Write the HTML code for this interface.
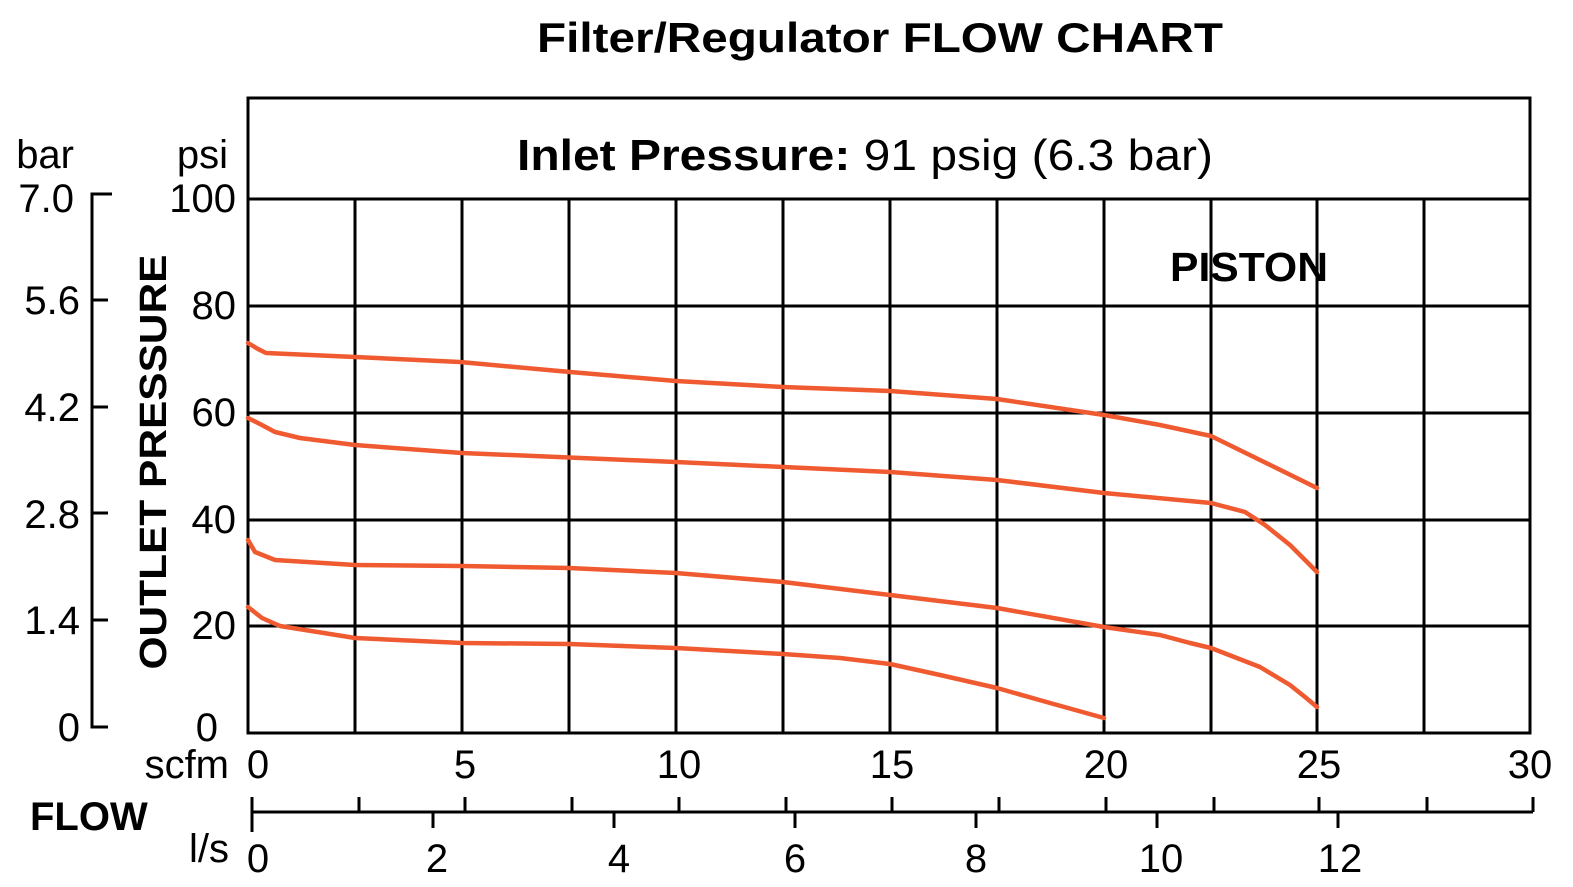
<!DOCTYPE html>
<html><head><style>body{margin:0;background:#fff}svg{display:block}</style></head><body>
<svg width="1573" height="887" viewBox="0 0 1573 887" xmlns="http://www.w3.org/2000/svg" font-family="Liberation Sans, Arial, sans-serif">
<text x="880" y="52" font-size="42" font-weight="bold" text-anchor="middle" textLength="686" lengthAdjust="spacingAndGlyphs">Filter/Regulator FLOW CHART</text>
<g stroke="#000" stroke-width="3" fill="none">
<rect x="248" y="98" width="1282" height="635"/>
<line x1="248" y1="199" x2="1530" y2="199"/>
<line x1="248" y1="306" x2="1530" y2="306"/>
<line x1="248" y1="413" x2="1530" y2="413"/>
<line x1="248" y1="520" x2="1530" y2="520"/>
<line x1="248" y1="626" x2="1530" y2="626"/>
<path d="M355 199V733M462 199V733M569 199V733M676 199V733M783 199V733M890 199V733M997 199V733M1104 199V733M1211 199V733M1317 199V733M1424 199V733"/>
<path d="M108 194H92V727H108M100 194H112M92 300H108M92 407H108M92 513H108M92 620H108"/>
<path d="M252 797V832M252 812H1533"/>
<path d="M359 797V812M465 797V812M572 797V812M679 797V812M786 797V812M892 797V812M999 797V812M1106 797V812M1214 797V812M1319 797V812M1427 797V812M1533 797V812"/>
<path d="M433 812V828M614 812V828M795 812V828M976 812V828M1157 812V828M1338 812V828"/>
</g>
<text x="865" y="170" font-size="44" text-anchor="middle" textLength="696" lengthAdjust="spacingAndGlyphs"><tspan font-weight="bold">Inlet Pressure:</tspan> 91 psig (6.3 bar)</text>
<text x="1249" y="281" font-size="41" font-weight="bold" text-anchor="middle" textLength="158" lengthAdjust="spacingAndGlyphs">PISTON</text>
<g font-size="40" text-anchor="end">
<text x="228" y="168">psi</text>
<text x="236" y="212">100</text><text x="236" y="319">80</text><text x="236" y="426">60</text><text x="236" y="533">40</text><text x="236" y="639">20</text><text x="218" y="741">0</text>
<text x="74" y="168">bar</text>
<text x="74" y="212">7.0</text><text x="80" y="314">5.6</text><text x="80" y="421">4.2</text><text x="80" y="528">2.8</text><text x="80" y="634">1.4</text><text x="80" y="741">0</text>
<text x="229" y="778">scfm</text>
<text x="229" y="862">l/s</text>
</g>
<text transform="translate(166,462) rotate(-90)" font-size="38" font-weight="bold" text-anchor="middle" textLength="415" lengthAdjust="spacingAndGlyphs">OUTLET PRESSURE</text>
<text x="30" y="830" font-size="40" font-weight="bold">FLOW</text>
<g font-size="40" text-anchor="middle">
<text x="258" y="778">0</text><text x="465" y="778">5</text><text x="679" y="778">10</text><text x="892" y="778">15</text><text x="1106" y="778">20</text><text x="1319" y="778">25</text><text x="1530" y="778">30</text>
<text x="258" y="872">0</text><text x="437" y="872">2</text><text x="619" y="872">4</text><text x="795" y="872">6</text><text x="976" y="872">8</text><text x="1161" y="872">10</text><text x="1340" y="872">12</text>
</g>
<g stroke="#f05a30" stroke-width="4.5" fill="none" stroke-linejoin="round" stroke-linecap="round">
<polyline points="248,343 258,349 266,353 355,357 460,362 570,372 676,381 783,387 890,391 997,399 1104,415 1160,425 1211,436 1260,460 1317,488"/>
<polyline points="248,418 260,424 275,432 300,438 355,445 462,453 676,462 890,472 997,480 1104,493 1211,503 1245,512 1265,525 1290,545 1317,572"/>
<polyline points="248,540 255,552 275,560 355,565 462,566 569,568 676,573 783,582 890,595 997,608 1104,627 1160,635 1190,643 1211,648 1260,667 1290,685 1305,697 1317,707"/>
<polyline points="248,607 262,618 280,626 355,638 462,643 569,644 676,648 783,654 840,658 890,664 940,675 997,688 1050,703 1104,718"/>
</g>
</svg>
</body></html>
